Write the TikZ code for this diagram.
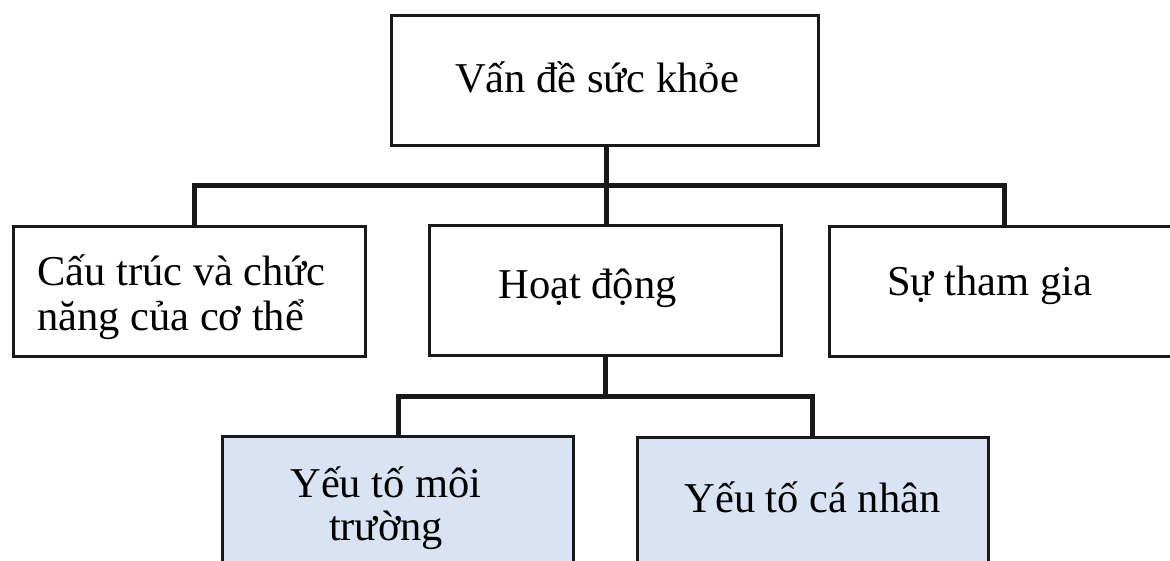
\documentclass[tikz,border=0pt]{standalone}
\usepackage{fontspec}
\setmainfont{Liberation Serif}
\definecolor{boxblue}{HTML}{DAE3F3}
\begin{document}
\begin{tikzpicture}[x=1pt,y=-1pt,
  box/.style={draw=black!90, line width=3pt, rectangle, inner sep=0pt},
  txt/.style={font=\fontsize{42.5}{45}\selectfont, inner sep=0pt, anchor=base},
  link/.style={draw=black!90, line width=5pt}]
\useasboundingbox (0,0) rectangle (1170,560);
\clip (0,0) rectangle (1170,560);
% boxes
\node[box, minimum width=427pt, minimum height=130pt] (top) at (604.5,80) {};
\node[box, minimum width=352pt, minimum height=130pt] (body) at (189,291) {};
\node[box, minimum width=352pt, minimum height=130pt] (act) at (605,290) {};
\node[box, minimum width=352pt, minimum height=130pt] (part) at (1005,291) {};
\node[box, fill=boxblue, minimum width=351pt, minimum height=140pt] (env) at (397.5,506) {};
\node[box, fill=boxblue, minimum width=351pt, minimum height=140pt] (pers) at (812.5,507) {};
% texts
\node[txt] (ttop) at (597,92) {Vấn đề sức khỏe};
\node[txt, anchor=base west, align=left] (tbody) at (37,330) {Cấu trúc và chức\\năng của cơ thể};
\node[txt] (tact) at (587.5,298) {Hoạt động};
\node[txt] (tpart) at (989.5,295) {Sự tham gia};
\node[txt, align=center, font=\fontsize{42.5}{43}\selectfont] (tenv) at (386,540) {Yếu tố môi\\trường};
\node[txt] (tpers) at (812.5,512) {Yếu tố cá nhân};
% connectors
\coordinate (bus1) at (606,185);
\coordinate (bus2) at (605,396);
\draw[link] (top.south -| bus1) -- (bus1);
\draw[link] (bus1) -- (act.north -| bus1);
\draw[link, line cap=rect] (194,185) -- (1004,185);
\draw[link] (194,185) -- ([xshift=5pt]body.north);
\draw[link] (1004,185) -- (part.north -| 1004,0);
\draw[link] (act.south -| bus2) -- (bus2);
\draw[link, line cap=rect] (398,396) -- (812,396);
\draw[link] (398,396) -- (env.north -| 398,0);
\draw[link] (812,396) -- (pers.north -| 812,0);
\end{tikzpicture}
\end{document}
